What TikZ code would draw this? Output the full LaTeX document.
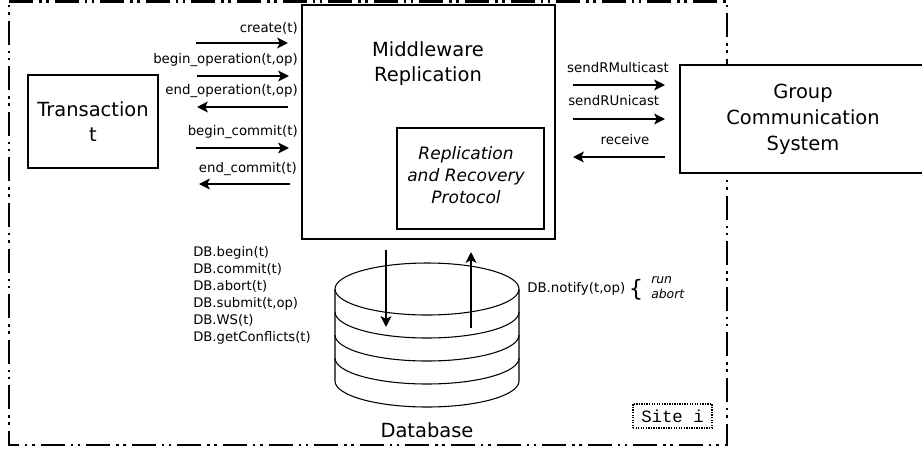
\documentclass[tikz,border=0pt]{standalone}
\usepackage{fontspec}
\setmainfont{DejaVu Sans}
\newfontfamily\sitemono{Liberation Mono}
\usetikzlibrary{arrows.meta}
\begin{document}
\begin{tikzpicture}[x=0.75pt,y=-0.75pt,
  box/.style={draw,line width=1.9pt,fill=white,inner sep=0pt},
  arr/.style={line width=1.8pt,-{Stealth[length=8pt,width=8pt,inset=1.8pt]}},
  lbl/.style={font=\fontsize{10}{11}\selectfont,inner sep=0pt},
  big/.style={font=\fontsize{14.6}{19}\selectfont,align=center,inner sep=0pt},
  sitefr/.style={line width=1.9pt,dash pattern=on 18pt off 4.5pt on 1.9pt off 3.4pt on 1.9pt off 4.5pt},
  layer/.style={line width=0.8pt}
]
\useasboundingbox (0,0) rectangle (922,455);
\clip (0,0) rectangle (922,455);

% site frame
\draw[sitefr] (9,1.5) -- (727,1.5) -- (727,445) -- (9,445) -- cycle;

% boxes
\node[box,minimum width=97.5pt,minimum height=69.75pt] (trans) at (93,121.5) {};
\node[big] (transtxt) at (93,121.5) {Transaction\\t};
\node[box,minimum width=189.75pt,minimum height=175.5pt] (mw) at (428.5,122) {};
\node[big,font=\fontsize{14.6}{18.75}\selectfont] (mwtxt) at (428,64) {Middleware\\Replication};
\node[box,line width=1.5pt,minimum width=110.25pt,minimum height=75.75pt] (rrp) at (470.5,178.5) {};
\node[align=center,inner sep=0pt,font=\fontsize{12.8}{16.5}\selectfont\itshape] (rrptxt) at (466,175) {Replication\\and Recovery\\Protocol};
\node[box,minimum width=184.5pt,minimum height=81pt] (gcs) at (803,119) {};
\node[big,font=\fontsize{14.6}{19.5}\selectfont] (gcstxt) at (803,119) {Group\\Communication\\System};

% left arrows
\coordinate (a1s) at (196,43);  \coordinate (a1e) at (288,43);
\coordinate (a2s) at (197,76);  \coordinate (a2e) at (289,76);
\coordinate (a3s) at (288,107); \coordinate (a3e) at (197,107);
\coordinate (a4s) at (196,148); \coordinate (a4e) at (289,148);
\coordinate (a5s) at (290,184); \coordinate (a5e) at (199,184);
\draw[arr] (a1s) -- (a1e);
\draw[arr] (a2s) -- (a2e);
\draw[arr] (a3s) -- (a3e);
\draw[arr] (a4s) -- (a4e);
\draw[arr] (a5s) -- (a5e);
\node[lbl,anchor=east] (l1) at (298,28) {create(t)};
\node[lbl,anchor=east] (l2) at (298,60) {begin\_operation(t,op)};
\node[lbl,anchor=east] (l3) at (298,91) {end\_operation(t,op)};
\node[lbl,anchor=east] (l4) at (298,132) {begin\_commit(t)};
\node[lbl,anchor=east] (l5) at (297,169) {end\_commit(t)};

% right arrows
\coordinate (r1s) at (573,85);  \coordinate (r1e) at (665,85);
\coordinate (r2s) at (573,119); \coordinate (r2e) at (665,119);
\coordinate (r3s) at (665,157); \coordinate (r3e) at (573,157);
\draw[arr] (r1s) -- (r1e);
\draw[arr] (r2s) -- (r2e);
\draw[arr] (r3s) -- (r3e);
\node[lbl] (m1) at (618,68) {sendRMulticast};
\node[lbl,anchor=west] (m2) at (568,101) {sendRUnicast};
\node[lbl] (m3) at (625,140) {receive};

% database
\draw[layer,fill=white] (335,289) -- (335,381)
  arc[start angle=180,end angle=360,x radius=69pt,y radius=19.5pt]
  -- (519,289)
  arc[start angle=0,end angle=180,x radius=69pt,y radius=19.5pt] -- cycle;
\foreach \yy in {289,312,335,358}{
  \draw[layer] (335,\yy) arc[start angle=180,end angle=360,x radius=69pt,y radius=19.5pt];
}
\node[big] (dbtxt) at (427,430) {Database};
\coordinate (d1s) at (386,250); \coordinate (d1e) at (386,327);
\coordinate (d2s) at (471,328); \coordinate (d2e) at (471,252);
\draw[arr] (d1s) -- (d1e);
\draw[arr] (d2s) -- (d2e);

\node[lbl,anchor=west,align=left,font=\fontsize{9.9}{12.75}\selectfont] (dbops) at (193,295.5)
  {DB.begin(t)\\DB.commit(t)\\DB.abort(t)\\DB.submit(t,op)\\DB.WS(t)\\DB.getConflicts(t)};
\node[lbl,anchor=west] (notify) at (527,289) {DB.notify(t,op)};
\node[inner sep=0pt,font=\fontsize{17}{18}\selectfont] (brace) at (636,290) {\{};
\node[inner sep=0pt,anchor=west,align=left,font=\fontsize{9.3}{11.25}\selectfont\itshape] (runab) at (651,288) {run\\abort};

% site label
\node[draw,line width=1.4pt,dash pattern=on 1pt off 0.9pt,minimum width=59.25pt,minimum height=18pt,inner sep=0pt,font=\sitemono\fontsize{13}{14}\selectfont] (site) at (672.5,416) {Site i};
\end{tikzpicture}
\end{document}
